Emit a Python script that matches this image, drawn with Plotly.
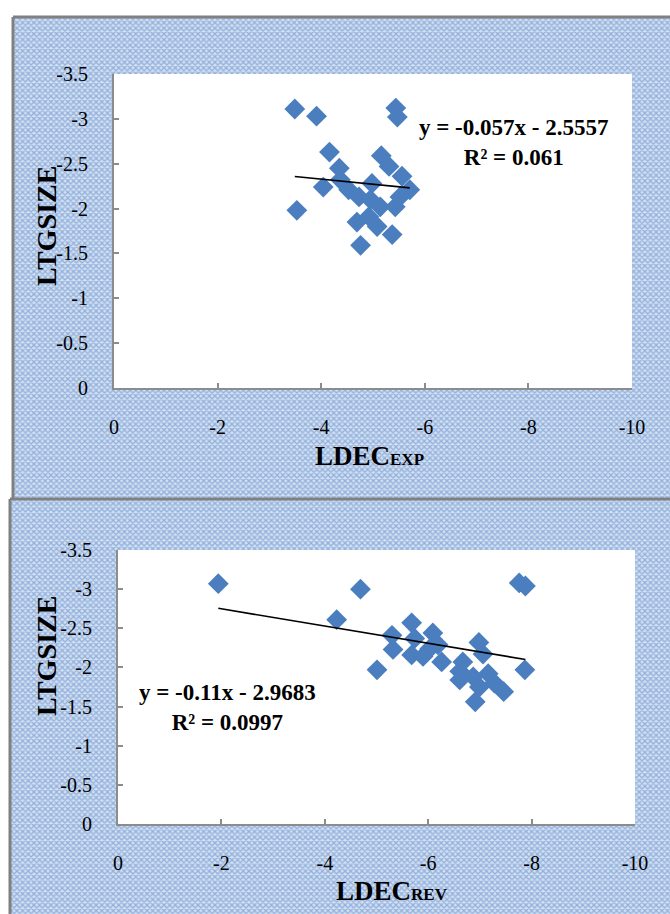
import plotly.graph_objects as go

# ---------------- data ----------------
exp_x = [-3.49, -3.91, -5.44, -5.47, -4.16, -4.35, -4.04, -3.53, -5.16, -5.31,
         -5.56, -5.71, -4.53, -4.73, -4.98, -4.95, -5.14, -5.43, -4.69, -4.92,
         -5.08, -5.37, -4.76, -5.52, -4.37]
exp_y = [-3.11, -3.03, -3.12, -3.02, -2.63, -2.45, -2.24, -1.98, -2.59, -2.47,
         -2.36, -2.21, -2.21, -2.13, -2.28, -2.10, -2.02, -2.02, -1.85, -1.91,
         -1.80, -1.71, -1.59, -2.13, -2.32]
exp_fit = (-0.057, -2.5557)   # slope, intercept
exp_eq = ["y = -0.057x - 2.5557", "R² = 0.061"]

rev_x = [-1.94, -4.69, -7.76, -7.88, -4.23, -5.30, -5.32, -5.01, -5.68, -5.74,
         -6.09, -5.68, -5.90, -6.19, -6.26, -6.98, -7.06, -6.67, -6.61, -6.61,
         -6.87, -7.16, -6.99, -7.28, -7.46, -6.91, -7.87, -6.03]
rev_y = [-3.07, -3.00, -3.08, -3.04, -2.61, -2.41, -2.23, -1.97, -2.57, -2.37,
         -2.44, -2.16, -2.14, -2.29, -2.07, -2.32, -2.17, -2.07, -1.95, -1.84,
         -1.88, -1.92, -1.75, -1.80, -1.69, -1.56, -1.97, -2.24]
rev_fit = (-0.11, -2.9683)
rev_eq = ["y = -0.11x - 2.9683", "R² = 0.0997"]

x_tickvals = [0, -2, -4, -6, -8, -10]
x_ticktext = ["0", "-2", "-4", "-6", "-8", "-10"]
y_tickvals = [0, -0.5, -1, -1.5, -2, -2.5, -3, -3.5]
y_ticktext = ["0", "-0.5", "-1", "-1.5", "-2", "-2.5", "-3", "-3.5"]
y_title = "LTGSIZE"
x_titles = [("LDEC", "EXP"), ("LDEC", "REV")]

# ---------------- layout constants (pixels) ----------------
W, H = 670, 914
SERIF = "Liberation Serif"
BLUE = "#4a7ebf"
AXIS_GRAY = "#8c8c8c"
BORDER_GRAY = "#808080"

def px_dom_x(a, b):
    return [a / W, b / W]

def px_dom_y(top, bottom):
    return [1 - bottom / H, 1 - top / H]

panels = [  # hatched panel rectangles: x0, y0(top), x1, y1(bottom)
    (13, 17, W, 498),
    (10, 499, W, H),
]
plots = [  # plot area: left, top, right, bottom
    (114, 74, 632, 388),
    (118, 550, 635, 824),
]

fig = go.Figure()

# background hatched panels on an overlay axis (decoration)
for (x0, y0, x1, y1) in panels:
    fig.add_trace(go.Scatter(
        x=[x0, x1, x1, x0, x0], y=[y0, y0, y1, y1, y0],
        mode="lines", fill="toself", line=dict(width=0),
        fillcolor="#a4bde0",
        fillpattern=dict(shape="x", fgcolor="#4f80c6", bgcolor="#d3e0f2",
                         size=4, solidity=0.55),
        hoverinfo="skip", showlegend=False, xaxis="x", yaxis="y"))

datasets = [
    (exp_x, exp_y, exp_fit, exp_eq),
    (rev_x, rev_y, rev_fit, rev_eq),
]
for i, (xs, ys, fit, eq) in enumerate(datasets):
    ax = str(i + 2)
    fig.add_trace(go.Scatter(
        x=xs, y=ys, mode="markers",
        marker=dict(symbol="diamond", size=16, color=BLUE, line=dict(width=0)),
        showlegend=False, xaxis="x" + ax, yaxis="y" + ax))
    xmin, xmax = min(xs), max(xs)
    fig.add_trace(go.Scatter(
        x=[xmax, xmin], y=[fit[0] * xmax + fit[1], fit[0] * xmin + fit[1]],
        mode="lines", line=dict(color="black", width=1.6),
        showlegend=False, xaxis="x" + ax, yaxis="y" + ax))

layout = dict(
    width=W, height=H,
    margin=dict(l=0, r=0, t=0, b=0, autoexpand=False),
    paper_bgcolor="white", plot_bgcolor="white",
    showlegend=False,
    xaxis=dict(domain=[0, 1], range=[0, W], visible=False, fixedrange=True),
    yaxis=dict(domain=[0, 1], range=[H, 0], visible=False, fixedrange=True),
)

for i, (l, t, r, b) in enumerate(plots):
    ax = str(i + 2)
    common = dict(
        showline=True, linecolor=AXIS_GRAY, linewidth=2,
        ticks="inside", ticklen=5, tickwidth=1.5, tickcolor=AXIS_GRAY,
        showgrid=False, zeroline=False,
        tickfont=dict(family=SERIF, size=20, color="black"),
        ticklabelstandoff=20, fixedrange=True,
    )
    layout["xaxis" + ax] = dict(
        domain=px_dom_x(l, r), range=[0, -10], anchor="y" + ax,
        tickmode="array", tickvals=x_tickvals, ticktext=x_ticktext, **common)
    layout["yaxis" + ax] = dict(
        domain=px_dom_y(t, b), range=[0, -3.5], anchor="x" + ax,
        tickmode="array", tickvals=y_tickvals, ticktext=y_ticktext, **common)

fig.update_layout(**layout)

# border lines of the panels
for (x0, y0, x1, y1) in panels:
    fig.add_shape(type="line", xref="x", yref="y", x0=x0, x1=x1, y0=y0, y1=y0,
                  line=dict(color=BORDER_GRAY, width=3))
    fig.add_shape(type="line", xref="x", yref="y", x0=x0, x1=x0, y0=y0, y1=y1,
                  line=dict(color=BORDER_GRAY, width=3))

# axis titles and equations
ytitle_pos = [(46, 226), (46, 656)]
xtitle_pos = [(369, 456), (392, 891)]
eq_pos = [(513, 143), (227, 707)]
for i in range(2):
    yx, yy = ytitle_pos[i]
    fig.add_annotation(
        x=yx / W, y=1 - yy / H, xref="paper", yref="paper",
        xanchor="center", yanchor="middle",
        text="<b>%s</b>" % y_title, textangle=-90, showarrow=False,
        font=dict(family=SERIF, size=28, color="black"))
    tx, ty = xtitle_pos[i]
    main, sub = x_titles[i]
    fig.add_annotation(
        x=tx / W, y=1 - ty / H, xref="paper", yref="paper",
        xanchor="center", yanchor="middle",
        text="<b>%s<span style='font-size:17px'>%s</span></b>" % (main, sub),
        showarrow=False, font=dict(family=SERIF, size=27, color="black"))
    ex, ey = eq_pos[i]
    fig.add_annotation(
        x=ex / W, y=1 - ey / H, xref="paper", yref="paper",
        xanchor="center", yanchor="middle",
        text="<b>%s<br>%s</b>" % tuple(datasets[i][3]), align="center",
        showarrow=False, font=dict(family=SERIF, size=23, color="black"))

fig.write_html(
    "out.html",
    config={"displayModeBar": False},
    post_script="document.body.style.margin='0';document.body.style.overflow='hidden';",
)
